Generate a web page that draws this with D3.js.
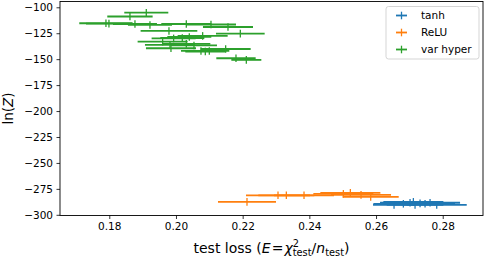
<!DOCTYPE html>
<html><head><meta charset="utf-8">
<script src="https://cdn.jsdelivr.net/npm/d3@7"></script>
<style>body{margin:0;background:#fff}svg{display:block}text{font-family:"DejaVu Sans",sans-serif}</style>
</head><body><svg id="c" width="486" height="259"></svg>
<script>
const seriesNames = ["tanh", "ReLU", "var hyper"];
const seriesColors = ["#1f77b4", "#ff7f0e", "#2ca02c"];
// [test loss, ln Z, test loss error]
const tanhData = [
  [0.2682, -289.4, 0.0090], [0.2702, -288.4, 0.0090], [0.2717, -290.4, 0.0085],
  [0.2732, -289.0, 0.0090], [0.2747, -289.4, 0.0090], [0.2762, -288.4, 0.0090],
  [0.2782, -290.4, 0.0090], [0.2654, -290.4, 0.0063], [0.2712, -287.5, 0.0090]
];
const reluData = [
  [0.2213, -287.5, 0.0087], [0.2306, -281.2, 0.0096], [0.2331, -281.2, 0.0084],
  [0.2384, -281.2, 0.0090], [0.2502, -279.8, 0.0090], [0.2523, -278.8, 0.0090],
  [0.2555, -280.8, 0.0090], [0.2584, -282.7, 0.0084]
];
const varHyperData = [
  [0.1911, -105.2, 0.0066], [0.1862, -108.9, 0.0068], [0.1790, -115.4, 0.0080],
  [0.1799, -115.7, 0.0069], [0.1877, -116.1, 0.0066], [0.1922, -117.0, 0.0066],
  [0.2031, -116.1, 0.0075], [0.2105, -116.6, 0.0075], [0.2156, -119.0, 0.0075],
  [0.2193, -125.4, 0.0073], [0.2080, -127.6, 0.0075], [0.1979, -122.8, 0.0085],
  [0.1993, -130.0, 0.0066], [0.2019, -129.6, 0.0066], [0.2040, -128.6, 0.0066],
  [0.1960, -133.1, 0.0075], [0.1982, -136.3, 0.0075], [0.2031, -135.3, 0.0072],
  [0.2054, -136.8, 0.0069], [0.2149, -140.2, 0.0075], [0.2075, -142.1, 0.0060],
  [0.2088, -142.6, 0.0060], [0.2100, -142.1, 0.0060], [0.2180, -149.1, 0.0059],
  [0.2211, -150.7, 0.0045], [0.1985, -139.5, 0.0075]
];
const xTicks = [0.18, 0.20, 0.22, 0.24, 0.26, 0.28];
const yTicks = [-100, -125, -150, -175, -200, -225, -250, -275, -300];

const L = 60, R = 483, T = 1.5, B = 215.5;
const x = d3.scaleLinear().domain([0.16522, 0.29208]).range([L, R]);
const y = d3.scaleLinear().domain([-300.67, -94.42]).range([B, T]);
const svg = d3.select("#c");
const fmtX = d3.format(".2f");
const minus = v => String(v).replace("-", "\u2212");

// axes
const xa = svg.append("g").attr("transform", `translate(0,${B})`)
  .call(d3.axisBottom(x).tickValues(xTicks).tickFormat(fmtX).tickSize(3.5).tickPadding(3.5));
const ya = svg.append("g").attr("transform", `translate(${L},0)`)
  .call(d3.axisLeft(y).tickValues(yTicks).tickFormat(minus).tickSize(3.5).tickPadding(3.5));
[xa, ya].forEach(g => {
  g.select(".domain").remove();
  g.selectAll("line").attr("stroke", "#000").attr("stroke-width", 0.8);
  g.selectAll("text").attr("font-family", "DejaVu Sans").attr("font-size", 10.5).attr("fill", "#000");
});

// data
const all = [tanhData, reluData, varHyperData];
all.forEach((data, i) => {
  const g = svg.append("g").attr("stroke", seriesColors[i]).attr("stroke-width", 1.8);
  g.selectAll("line.h").data(data).join("line").attr("class", "h")
    .attr("x1", d => x(d[0] - d[2])).attr("x2", d => x(d[0] + d[2]))
    .attr("y1", d => y(d[1])).attr("y2", d => y(d[1]));
  g.selectAll("line.v").data(data).join("line").attr("class", "v")
    .attr("x1", d => x(d[0])).attr("x2", d => x(d[0]))
    .attr("y1", d => y(d[1]) - 3.8).attr("y2", d => y(d[1]) + 3.8)
    .attr("stroke-width", 1.3);
});

// frame
svg.append("rect").attr("x", L).attr("y", T).attr("width", R - L).attr("height", B - T)
  .attr("fill", "none").attr("stroke", "#000").attr("stroke-width", 0.9);

// legend
const lg = svg.append("g");
lg.append("rect").attr("x", 386).attr("y", 6.5).attr("width", 93).attr("height", 52.5)
  .attr("rx", 2.5).attr("fill", "#fff").attr("fill-opacity", 0.8).attr("stroke", "#d0d0d0").attr("stroke-width", 0.9);
seriesNames.forEach((name, i) => {
  const cy = 15.5 + i * 17;
  lg.append("line").attr("x1", 396).attr("x2", 407).attr("y1", cy).attr("y2", cy)
    .attr("stroke", seriesColors[i]).attr("stroke-width", 1.8);
  lg.append("line").attr("x1", 401.5).attr("x2", 401.5).attr("y1", cy - 3.8).attr("y2", cy + 3.8)
    .attr("stroke", seriesColors[i]).attr("stroke-width", 1.3);
  lg.append("text").attr("x", 421).attr("y", cy + 3.8).attr("font-size", 10.5).text(name);
});

// axis labels
const FS = 14, SS = 9.8;
const xl = svg.append("text").attr("x", (L + R) / 2).attr("y", 253).attr("text-anchor", "middle")
  .attr("font-size", FS);
xl.append("tspan").text("test loss (");
xl.append("tspan").attr("font-style", "italic").text("E");
xl.append("tspan").attr("dx", 1).text("=");
xl.append("tspan").attr("dx", 1).attr("font-style", "italic").text("\u03c7");
xl.append("tspan").attr("font-size", SS).attr("dy", -6.5).text("2");
xl.append("tspan").attr("font-size", SS).attr("dx", -6.2).attr("dy", 9.5).text("test");
xl.append("tspan").attr("dy", -3).text("/");
xl.append("tspan").attr("font-style", "italic").text("n");
xl.append("tspan").attr("font-size", SS).attr("dy", 3).text("test");
xl.append("tspan").attr("dy", -3).text(")");

const yl = svg.append("text").attr("transform", `translate(12.5,${(T + B) / 2}) rotate(-90)`)
  .attr("text-anchor", "middle").attr("font-size", 13.5);
yl.append("tspan").text("ln(");
yl.append("tspan").attr("font-style", "italic").text("Z");
yl.append("tspan").text(")");
</script></body></html>
